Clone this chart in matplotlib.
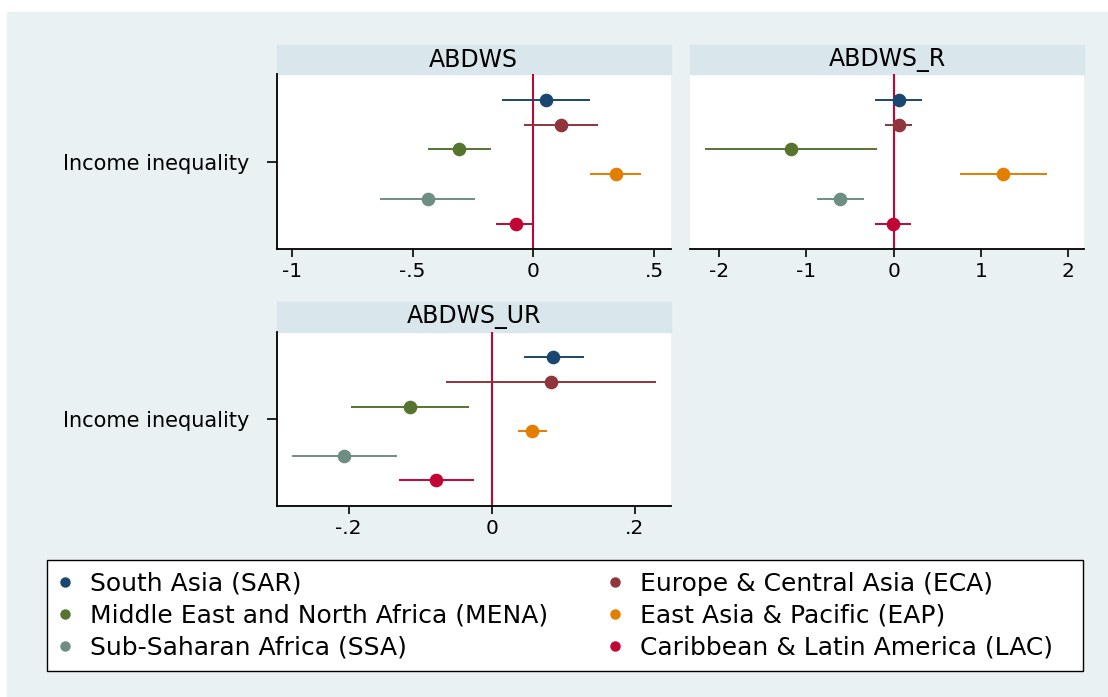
import matplotlib
matplotlib.use("Agg")
import matplotlib.pyplot as plt
import numpy as np
from matplotlib.lines import Line2D
from matplotlib.patches import Rectangle

plt.rcParams["font.family"] = ["DejaVu Sans"]
plt.rcParams["axes.unicode_minus"] = False

# regions, top to bottom in each panel
regions = [
    "South Asia (SAR)",
    "Europe & Central Asia (ECA)",
    "Middle East and North Africa (MENA)",
    "East Asia & Pacific (EAP)",
    "Sub-Saharan Africa (SSA)",
    "Caribbean & Latin America (LAC)",
]
colors = ["#1a476f", "#90353b", "#55752f", "#e37e00", "#6e8e84", "#c10534"]

# ABDWS
abdws_b = [0.051, 0.115, -0.306, 0.340, -0.438, -0.074]
abdws_lo = [-0.128, -0.038, -0.434, 0.234, -0.633, -0.154]
abdws_hi = [0.234, 0.267, -0.176, 0.445, -0.241, 0.000]

# ABDWS_R
abdws_r_b = [0.057, 0.060, -1.176, 1.256, -0.611, -0.005]
abdws_r_lo = [-0.214, -0.100, -2.161, 0.759, -0.878, -0.214]
abdws_r_hi = [0.320, 0.206, -0.191, 1.752, -0.344, 0.195]

# ABDWS_UR
abdws_ur_b = [0.086, 0.083, -0.114, 0.057, -0.207, -0.078]
abdws_ur_lo = [0.045, -0.064, -0.197, 0.037, -0.279, -0.129]
abdws_ur_hi = [0.129, 0.230, -0.032, 0.077, -0.132, -0.025]

panel_titles = ["ABDWS", "ABDWS_R", "ABDWS_UR"]
xticks_all = [[-1, -0.5, 0, 0.5], [-2, -1, 0, 1, 2], [-0.2, 0, 0.2]]
xtick_labels_all = [["-1", "-.5", "0", ".5"], ["-2", "-1", "0", "1", "2"],
                    ["-.2", "0", ".2"]]
xlims = [(-1.062, 0.568), (-2.333, 2.18), (-0.3007, 0.2503)]
ylabel = "Income inequality"

bg = "#e9f1f3"
strip_col = "#d9e6eb"

W, H = 1108, 697
fig = plt.figure(figsize=(W / 100, H / 100), dpi=100, facecolor="white")
fig.patches.append(Rectangle((7 / W, 0), 1 - 7 / W, (H - 12) / H,
                             transform=fig.transFigure, color=bg, zorder=-10))


def px_axes(left, top, right, bottom):
    return fig.add_axes([left / W, 1 - bottom / H, (right - left) / W,
                         (bottom - top) / H])


axes = [
    px_axes(276.7, 74.3, 670.7, 249),
    px_axes(690, 74.3, 1084, 249),
    px_axes(276.7, 331.7, 670.7, 505.7),
]
data = [
    (abdws_b, abdws_lo, abdws_hi),
    (abdws_r_b, abdws_r_lo, abdws_r_hi),
    (abdws_ur_b, abdws_ur_lo, abdws_ur_hi),
]

n = len(regions)
ypos = (n - 1) / 2 - np.arange(n)

for k, ax in enumerate(axes):
    b, lo, hi = data[k]
    ax.set_facecolor("white")
    ax.axvline(0, color="#c10534", lw=1.5, zorder=1)
    for i in range(n):
        ax.plot([lo[i], hi[i]], [ypos[i], ypos[i]], color=colors[i], lw=1.4,
                solid_capstyle="butt", zorder=2)
        ax.plot(b[i], ypos[i], "o", color=colors[i], ms=8.8, zorder=3)
    ax.set_xlim(*xlims[k])
    ax.set_ylim(-3.53, 3.54)
    ax.set_xticks(xticks_all[k])
    ax.set_xticklabels(xtick_labels_all[k])
    ax.tick_params(axis="x", length=5.5, width=1.2, pad=4, labelsize=14.5)
    for s in ["top", "right"]:
        ax.spines[s].set_visible(False)
    ax.spines["bottom"].set_linewidth(1.3)
    ax.spines["left"].set_linewidth(1.3)
    if k == 1:
        ax.spines["left"].set_visible(False)
        ax.set_yticks([])
    else:
        ax.set_yticks([0])
        ax.set_yticklabels([ylabel])
        ax.tick_params(axis="y", length=7, width=1.2, pad=13, labelsize=15)
    # strip title
    bbox = ax.get_position()
    sh = 29.5 / H / bbox.height
    ax.add_patch(Rectangle((0, 1), 1, sh, transform=ax.transAxes,
                           color=strip_col, clip_on=False, zorder=0))
    ax.text(0.5, 1 + sh / 2, panel_titles[k], transform=ax.transAxes,
            ha="center", va="center", fontsize=17)

# legend frame
fig.patches.append(Rectangle((46.7 / W, 1 - 670.7 / H), (1083.3 - 46.7) / W,
                             (670.7 - 560) / H, transform=fig.transFigure,
                             facecolor="white", edgecolor="black", lw=1.0,
                             zorder=-5))

# legend, two columns filled row by row like the original
columns = [[0, 2, 4], [1, 3, 5]]
col_x = [55, 605]
for c, idx in enumerate(columns):
    handles = [Line2D([], [], ls="", marker="o", ms=6.5, color=colors[i])
               for i in idx]
    labels = [regions[i] for i in idx]
    leg = fig.legend(handles, labels, loc="upper left",
                     bbox_to_anchor=(col_x[c] / W, 1 - 571.5 / H),
                     fontsize=18, frameon=False, borderaxespad=0,
                     borderpad=0, handlelength=0.8, handletextpad=0.6,
                     labelspacing=0.33)

fig.savefig("out.png", dpi=100, facecolor="white")
